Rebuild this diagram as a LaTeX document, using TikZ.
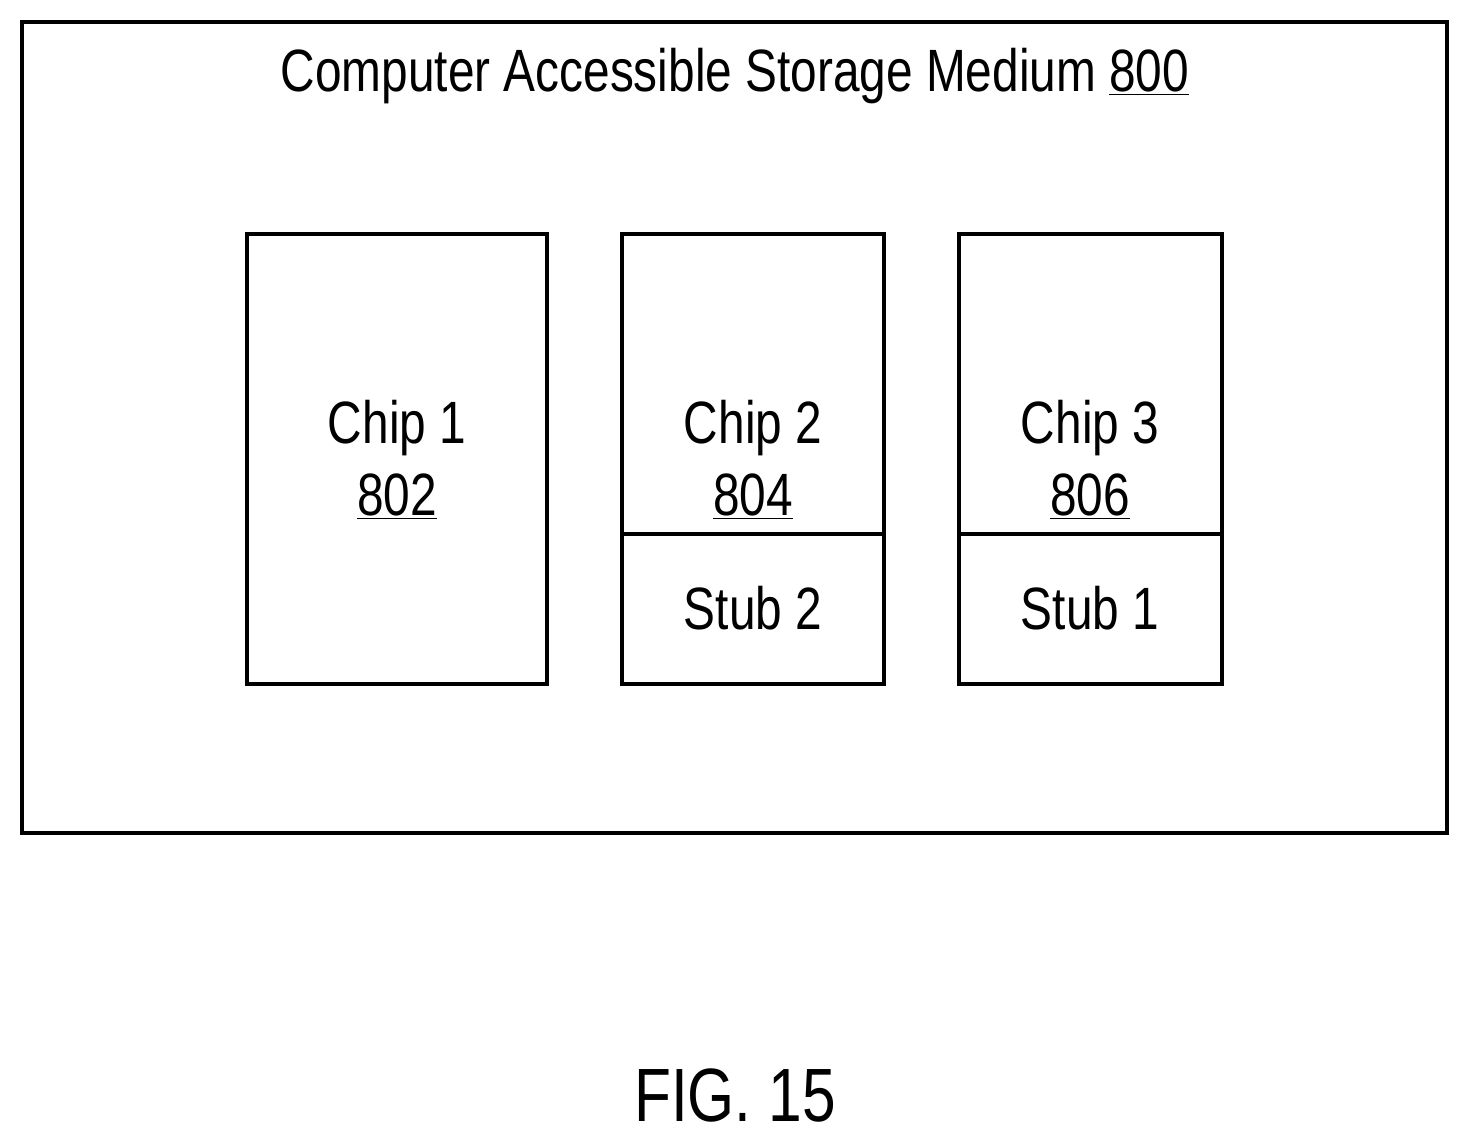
\documentclass[tikz,border=0pt]{standalone}
\usepackage{fontspec}
\setmainfont[FakeStretch=0.8]{Liberation Sans}
\begin{document}
\begin{tikzpicture}[x=0.02cm,y=-0.02cm,
    box/.style={draw=black,line width=2pt},
    lbl/.style={font=\fontsize{34}{41}\selectfont,align=center,inner sep=0pt}]
	\useasboundingbox (0,0) rectangle (1469,1140);
	\draw[box] (22,22) rectangle (1447,833);
	\node[lbl](title) at (735,76){Computer Accessible Storage Medium \underline{800}};
	% chips
	\draw[box] (247,234) rectangle (547,684);
	\draw[box] (622,234) rectangle (884,684);
	\draw[box] (622,534) -- (884,534);
	\draw[box] (959,234) rectangle (1222,684);
	\draw[box] (959,534) -- (1222,534);
	\node[lbl](chipa) at (397,460){Chip 1\\\underline{802}};
	\node[lbl](chipb) at (753,460){Chip 2\\\underline{804}};
	\node[lbl](chipc) at (1090,460){Chip 3\\\underline{806}};
	\node[lbl](stubb) at (753,608){Stub 2};
	\node[lbl](stuba) at (1090,608){Stub 1};
	\node[lbl,font=\fontsize{43}{50}\selectfont](fig) at (735,1095){FIG. 15};
\end{tikzpicture}
\end{document}
